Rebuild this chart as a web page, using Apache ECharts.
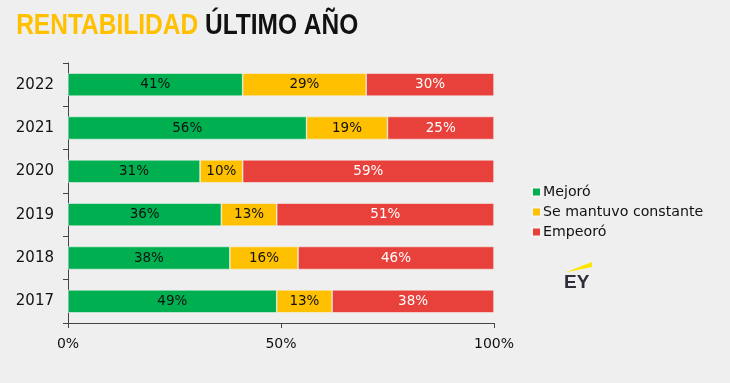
<!DOCTYPE html>
<html><head><meta charset="utf-8">
<script src="https://cdn.jsdelivr.net/npm/echarts@6/dist/echarts.min.js"></script>
<style>html,body{margin:0;padding:0;background:#eeefee;}#c{width:730px;height:383px;}</style>
</head><body><div id="c"></div>
<script>
const years = ['2017','2018','2019','2020','2021','2022'];
const mejoro = [49,38,36,31,56,41];
const constante = [13,16,13,10,19,29];
const empeoro = [38,46,51,59,25,30];
const xTicks = ['0%','50%','100%'];
const seriesNames = ['Mejoró','Se mantuvo constante','Empeoró'];
const colors = ['#00b050','#ffc000','#e8403a'];

const chart = echarts.init(document.getElementById('c'));
const font = 'DejaVu Sans';
function mk(name, data, color, labelColor){
  return {
    name, type:'bar', stack:'t', data, barWidth:23,
    itemStyle:{color, borderColor:'#f4f4f4', borderWidth:0.6},
    label:{show:true, position:'inside', formatter:p=>p.value+'%', color:labelColor, fontFamily:font, fontSize:13.5},
    emphasis:{disabled:true}
  };
}
chart.setOption({
  backgroundColor:'#eeefee',
  animation:false,
  legend:{orient:'vertical', left:526, top:180, itemWidth:9, itemHeight:9, itemGap:6,
    icon:'rect', data:seriesNames,
    textStyle:{fontFamily:font, fontSize:14.2, color:'#111', padding:[0,0,0,-3]}},
  grid:{left:68, right:236, top:63, bottom:60},
  xAxis:{type:'value', min:0, max:100, interval:50,
    axisLine:{show:true, lineStyle:{color:'#444'}},
    axisTick:{show:true, length:5, lineStyle:{color:'#444'}},
    splitLine:{show:false},
    axisLabel:{formatter:v=>xTicks[v/50], fontFamily:font, fontSize:14, color:'#111', margin:14}},
  yAxis:{type:'category', data:years,
    axisLine:{show:true, lineStyle:{color:'#444'}},
    axisTick:{show:true, length:5, lineStyle:{color:'#444'}},
    axisLabel:{fontFamily:font, fontSize:15, color:'#111', margin:14}},
  series:[
    mk(seriesNames[0], mejoro, colors[0], '#111'),
    mk(seriesNames[1], constante, colors[1], '#111'),
    mk(seriesNames[2], empeoro, colors[2], '#fff')
  ],
  graphic:[
    {type:'text', x:14, y:26, scaleX:0.845, originX:14, originY:26,
      style:{text:'{a|RENTABILIDAD}{b| ÚLTIMO AÑO}', verticalAlign:'middle', align:'left',
        rich:{
          a:{fill:'#ffc000', fontSize:29, fontWeight:'bold', fontFamily:'Liberation Sans'},
          b:{fill:'#111', fontSize:29, fontWeight:'bold', fontFamily:'Liberation Sans'}}}},
    {type:'polygon', shape:{points:[[565,272.5],[592,262],[592,267]]}, style:{fill:'#ffe600'}},
    {type:'text', x:564, y:283, style:{text:'EY', verticalAlign:'middle', fontFamily:'Liberation Sans', fontWeight:'bold', fontSize:19, fill:'#2e2e38'}}
  ]
});
</script></body></html>
